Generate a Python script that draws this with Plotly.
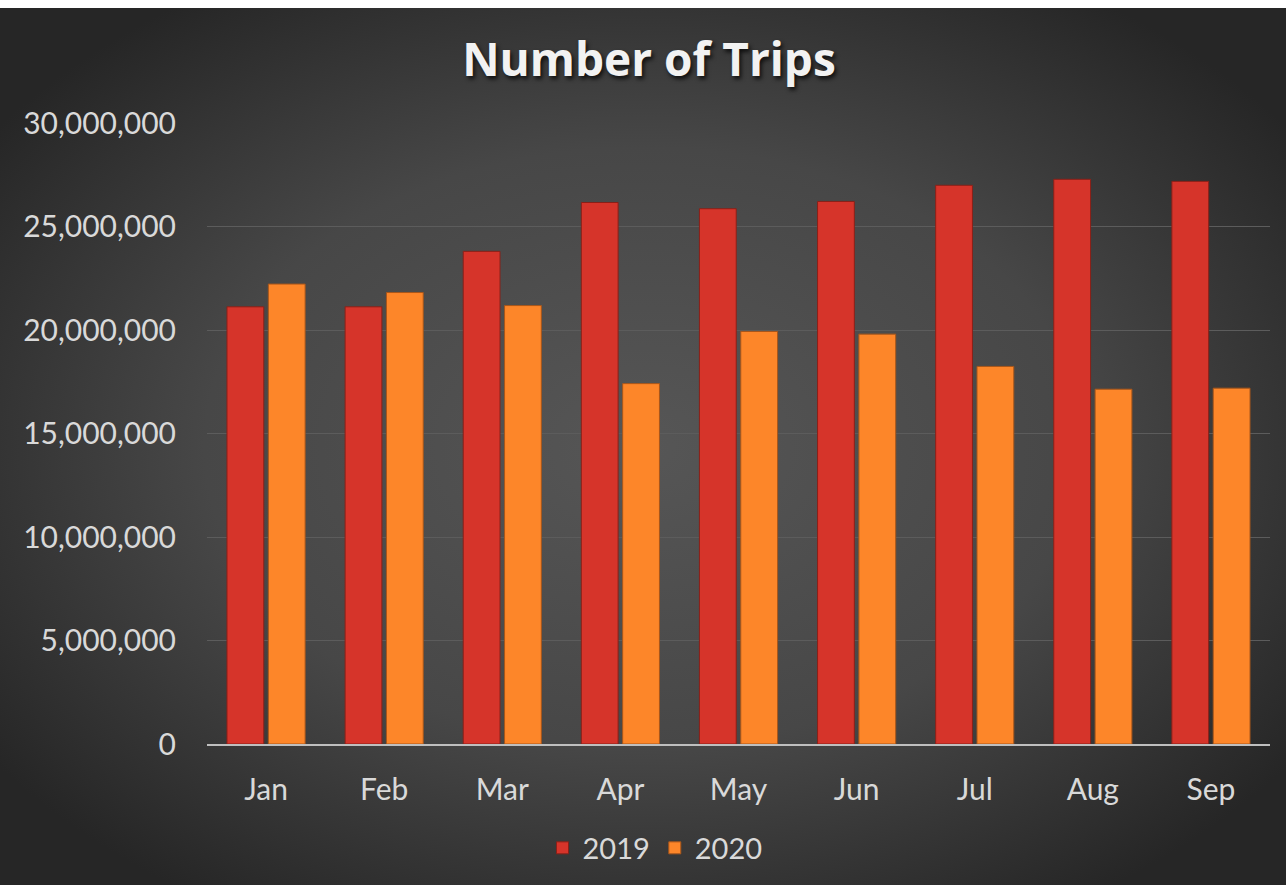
import base64
import plotly.graph_objects as go

months = ["Jan", "Feb", "Mar", "Apr", "May", "Jun", "Jul", "Aug", "Sep"]
trips_2019 = [21120000, 21120000, 23800000, 26160000, 25860000, 26210000, 26990000, 27280000, 27180000]
trips_2020 = [22220000, 21810000, 21180000, 17410000, 19930000, 19800000, 18240000, 17140000, 17190000]
y_ticks = [0, 5000000, 10000000, 15000000, 20000000, 25000000, 30000000]

W, H = 1286, 877
L, R, T, B = 207, 16, 115, 141
pw, ph = W - L - R, H - T - B

svg = f'''<svg xmlns="http://www.w3.org/2000/svg" width="{W}" height="{H}" viewBox="0 0 {W} {H}" preserveAspectRatio="none">
<defs><radialGradient id="g" cx="0.5" cy="0.5" r="0.62" fx="0.5" fy="0.5">
<stop offset="0" stop-color="#565656"/><stop offset="0.55" stop-color="#474747"/><stop offset="1" stop-color="#262626"/>
</radialGradient></defs>
<rect x="0" y="0" width="{W}" height="{H}" fill="url(#g)"/></svg>'''
bg_src = "data:image/svg+xml;base64," + base64.b64encode(svg.encode()).decode()

label_font = dict(family="Lato, 'Noto Sans', sans-serif", size=30, color="#d9d9d9")

fig = go.Figure()
fig.add_trace(go.Bar(
    name="2019", x=months, y=trips_2019,
    marker=dict(color="#d6342a", line=dict(color="#8a2018", width=1)),
))
fig.add_trace(go.Bar(
    name="2020", x=months, y=trips_2020,
    marker=dict(color="#fd8629", line=dict(color="#a8561a", width=1)),
))

fig.update_layout(
    width=W, height=H,
    margin=dict(l=L, r=R, t=T, b=B, pad=0),
    paper_bgcolor="#333333",
    plot_bgcolor="rgba(0,0,0,0)",
    barmode="group",
    bargap=0.30,
    bargroupgap=0.11,
    title=dict(
        text="Number of Trips",
        x=649 / W, xref="container", xanchor="center",
        y=1 - 52 / H, yref="container", yanchor="middle",
        font=dict(family="'Open Sans', Lato, sans-serif", size=46, color="#f2f2f2",
                  weight="bold", shadow="2px 3px 4px rgba(0,0,0,0.75)"),
    ),
    xaxis=dict(
        showgrid=False, showline=True, linecolor="#bfbfbf", linewidth=2,
        ticks="", tickfont=label_font, ticklabelstandoff=18,
    ),
    yaxis=dict(
        range=[0, 30000000], tickvals=y_ticks, tickformat=",d",
        showgrid=True, gridcolor="#5c5c5c", gridwidth=1,
        zeroline=False, showline=False, ticks="",
        tickfont=label_font, ticklabelstandoff=30,
    ),
    showlegend=True,
    legend=dict(
        orientation="h", x=655 / W, xref="container", xanchor="center",
        y=(H - 840) / H, yref="container", yanchor="middle",
        font=dict(family="Lato, 'Noto Sans', sans-serif", size=29, color="#d9d9d9"),
        bgcolor="rgba(0,0,0,0)", itemwidth=30, traceorder="normal",
    ),
    images=[dict(
        source=bg_src, xref="paper", yref="paper",
        x=-L / pw, y=1 + T / ph,
        sizex=W / pw, sizey=H / ph,
        xanchor="left", yanchor="top", sizing="stretch", layer="below",
    )],
)

fig.write_html("out.html", post_script="document.body.style.margin='8px 0 0 0';")
